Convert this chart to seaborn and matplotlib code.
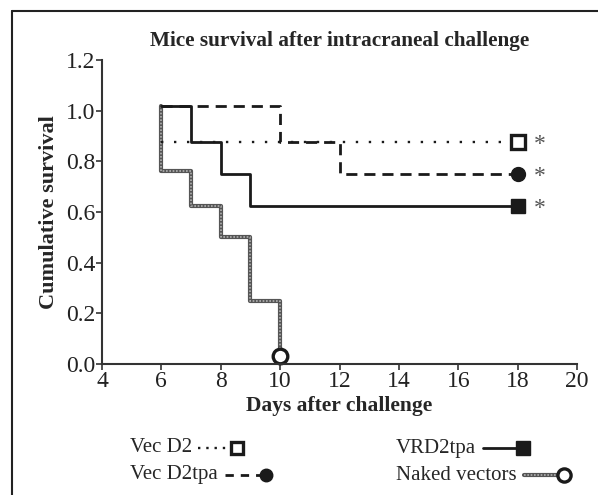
import matplotlib
matplotlib.use("Agg")
import matplotlib.pyplot as plt
from matplotlib.lines import Line2D
import seaborn as sns
import pandas as pd

# --- datos ---
vec_d2_days = [6, 18]
vec_d2_surv = [0.875, 0.875]

vec_d2tpa_days = [6, 10, 12, 18]
vec_d2tpa_surv = [1.02, 0.875, 0.75, 0.75]

vrd2tpa_days = [6, 7, 8, 9, 18]
vrd2tpa_surv = [1.02, 0.875, 0.75, 0.625, 0.625]

naked_days = [6, 6, 7, 8, 9, 10]
naked_surv = [1.02, 0.76, 0.625, 0.5, 0.25, 0.03]

x_ticks = [4, 6, 8, 10, 12, 14, 16, 18, 20]
y_ticks = [0.0, 0.2, 0.4, 0.6, 0.8, 1.0, 1.2]

sns.set_style("ticks")
plt.rcParams['font.family'] = ['Liberation Serif', 'DejaVu Serif']

W, H = 598, 495
fig = plt.figure(figsize=(W / 100, H / 100), dpi=100)
ax = fig.add_axes([102 / W, 1 - 364 / H, 475 / W, 304 / H])

dark = '#1a1a1a'

def steps(days, surv, **kw):
    d = pd.DataFrame({'day': days, 'surv': surv})
    sns.lineplot(data=d, x='day', y='surv', drawstyle='steps-post', estimator=None,
                 sort=False, ax=ax, **kw)

# Naked vectors: linea gris "texturizada"
steps(naked_days, naked_surv, color='#555555', lw=3.0)
steps(naked_days, naked_surv, color='#b0b0b0', lw=1.2, dashes=(1, 1))
steps(vec_d2_days, vec_d2_surv, color=dark, lw=1.7, dashes=(1, 4.5))
steps(vec_d2tpa_days, vec_d2tpa_surv, color=dark, lw=2.0, dashes=(4, 2.5))
steps(vrd2tpa_days, vrd2tpa_surv, color=dark, lw=2.0)

# marcadores finales
ax.plot(vec_d2_days[-1], vec_d2_surv[-1], 's', ms=10.5, mfc='white', mec=dark, mew=2.4, clip_on=False)
ax.plot(vec_d2tpa_days[-1], vec_d2tpa_surv[-1], 'o', ms=10, color=dark, clip_on=False)
ax.plot(vrd2tpa_days[-1], vrd2tpa_surv[-1], 's', ms=10.5, color=dark, clip_on=False)
ax.plot(naked_days[-1], naked_surv[-1], 'o', ms=10.5, mfc='white', mec=dark, mew=2.4, clip_on=False)

for yv in [vec_d2_surv[-1], vec_d2tpa_surv[-1], vrd2tpa_surv[-1]]:
    ax.text(18.75, yv - 0.01, '*', ha='center', va='center', fontsize=17, color='#555555')

ax.set_xlim(4, 20)
ax.set_ylim(0, 1.2)
ax.set_xticks(x_ticks)
ax.set_yticks(y_ticks)
ax.set_yticklabels([f"{v:.1f}" for v in y_ticks])
ax.tick_params(labelsize=17, length=4, width=1.2, color='#333333', labelcolor='#222222', pad=1)
for s in ['left', 'bottom']:
    ax.spines[s].set_linewidth(1.5)
    ax.spines[s].set_color('#333333')
sns.despine(ax=ax)

ax.set_xlabel('Days after challenge', fontsize=15.5, fontweight='bold', labelpad=3)
ax.set_ylabel('Cumulative survival', fontsize=16, fontweight='bold', labelpad=5)
ax.set_title('Mice survival after intracraneal challenge', fontsize=15.3, fontweight='bold', pad=10)

# marco de la figura (solo arriba e izquierda)
fig.add_artist(Line2D([12 / W, 1.0], [1 - 11 / H, 1 - 11 / H], color='#222222', lw=1.5))
fig.add_artist(Line2D([12 / W, 12 / W], [0, 1 - 11 / H], color='#222222', lw=1.5))

# leyenda manual
def fx(px):
    return px / W

def fy(py):
    return 1 - py / H

fs = 15
fig.text(fx(130), fy(448), 'Vec D2', fontsize=fs, va='center', ha='left')
fig.add_artist(Line2D([fx(198), fx(227)], [fy(448), fy(448)], color=dark, lw=1.7, dashes=(1, 2.5)))
fig.add_artist(Line2D([fx(237)], [fy(448)], marker='s', ms=9, mfc='white', mec=dark, mew=2.4))

fig.text(fx(130), fy(475), 'Vec D2tpa', fontsize=fs, va='center', ha='left')
fig.add_artist(Line2D([fx(225), fx(262)], [fy(475), fy(475)], color=dark, lw=2.0, dashes=(3, 2.5)))
fig.add_artist(Line2D([fx(266)], [fy(475)], marker='o', ms=9, color=dark))

fig.text(fx(396), fy(448), 'VRD2tpa', fontsize=fs, va='center', ha='left')
fig.add_artist(Line2D([fx(483), fx(520)], [fy(448), fy(448)], color=dark, lw=2.0))
fig.add_artist(Line2D([fx(523)], [fy(448)], marker='s', ms=9.5, color=dark))

fig.text(fx(396), fy(475), 'Naked vectors', fontsize=fs, va='center', ha='left')
fig.add_artist(Line2D([fx(524), fx(558)], [fy(475), fy(475)], color='#555555', lw=3.0))
fig.add_artist(Line2D([fx(524), fx(558)], [fy(475), fy(475)], color='#b0b0b0', lw=1.2, dashes=(1, 1)))
fig.add_artist(Line2D([fx(564)], [fy(475)], marker='o', ms=9.5, mfc='white', mec=dark, mew=2.4))

fig.savefig('out.png', dpi=100)
